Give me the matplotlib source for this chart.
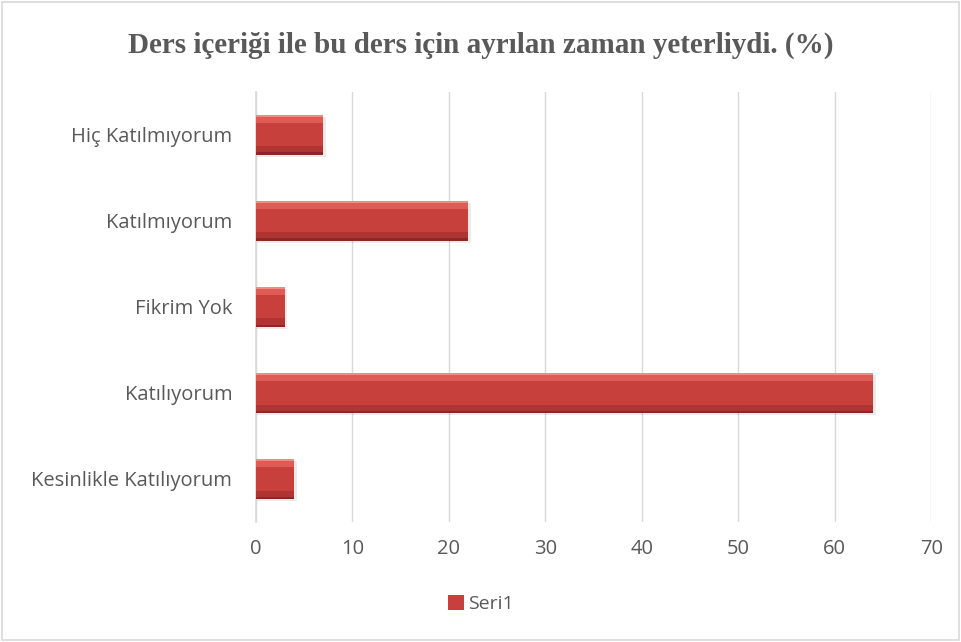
import matplotlib.pyplot as plt
from matplotlib.patches import Rectangle

categories = ['Kesinlikle Katılıyorum', 'Katılıyorum', 'Fikrim Yok', 'Katılmıyorum', 'Hiç Katılmıyorum']
values = [4, 64, 3, 22, 7]
xticks = [0, 10, 20, 30, 40, 50, 60, 70]
title = 'Ders içeriği ile bu ders için ayrılan zaman yeterliydi. (%)'
series_name = 'Seri1'

text_gray = '#595959'
grid_gray = '#D9D9D9'

fig = plt.figure(figsize=(9.62, 6.42), dpi=100)
ax = fig.add_axes([0.266, 0.187, 0.702, 0.670])

pos = list(range(len(categories)))
h = 0.47

# soft shadow
ax.barh([p - 0.025 for p in pos], [v + 0.25 for v in values], height=h, color='#000000',
        alpha=0.08, zorder=2)
# main bar plus thin strips to fake the bevel look
ax.barh(pos, values, height=h, color='#C8403C', zorder=3, label=series_name)
ax.barh([p + h / 2 - 0.05 for p in pos], values, height=0.10, color='#DE5B56', zorder=4)
ax.barh([p + h / 2 - 0.015 for p in pos], values, height=0.03, color='#F08A85', zorder=4)
ax.barh([p - h / 2 + 0.05 for p in pos], values, height=0.10, color='#B03431', zorder=4)
ax.barh([p - h / 2 + 0.015 for p in pos], values, height=0.03, color='#8A2826', zorder=4)

ax.set_xlim(0, 70)
ax.set_ylim(-0.5, len(categories) - 0.5)
ax.set_xticks(xticks)
ax.set_yticks(pos)
ax.set_yticklabels(categories)
ax.tick_params(axis='both', length=0, colors=text_gray, labelsize=14.5)
ax.tick_params(axis='x', pad=12)
ax.tick_params(axis='y', pad=17)
for lbl in ax.get_xticklabels() + ax.get_yticklabels():
    lbl.set_fontfamily('Open Sans')

ax.grid(axis='x', color=grid_gray, linewidth=1, zorder=0)
ax.set_axisbelow(True)
for s in ['top', 'right', 'bottom']:
    ax.spines[s].set_visible(False)
ax.spines['left'].set_color(grid_gray)
ax.spines['left'].set_linewidth(1.2)

fig.text(0.5, 0.93, title, ha='center', va='center', fontsize=21, fontweight='bold',
         family='Liberation Serif', color=text_gray)

handles, labels = ax.get_legend_handles_labels()
leg = fig.legend(handles[:1], labels[:1], loc='center', bbox_to_anchor=(0.5, 0.059),
                 frameon=False, handlelength=0.8, handleheight=0.8, handletextpad=0.2,
                 prop={'family': 'Open Sans', 'size': 14})
for t in leg.get_texts():
    t.set_color(text_gray)

fig.patches.append(Rectangle((0.002, 0.003), 0.995, 0.994, transform=fig.transFigure,
                             fill=False, edgecolor='#D9D9D9', linewidth=1.2))

fig.savefig('out.png', dpi=100, facecolor='white')
